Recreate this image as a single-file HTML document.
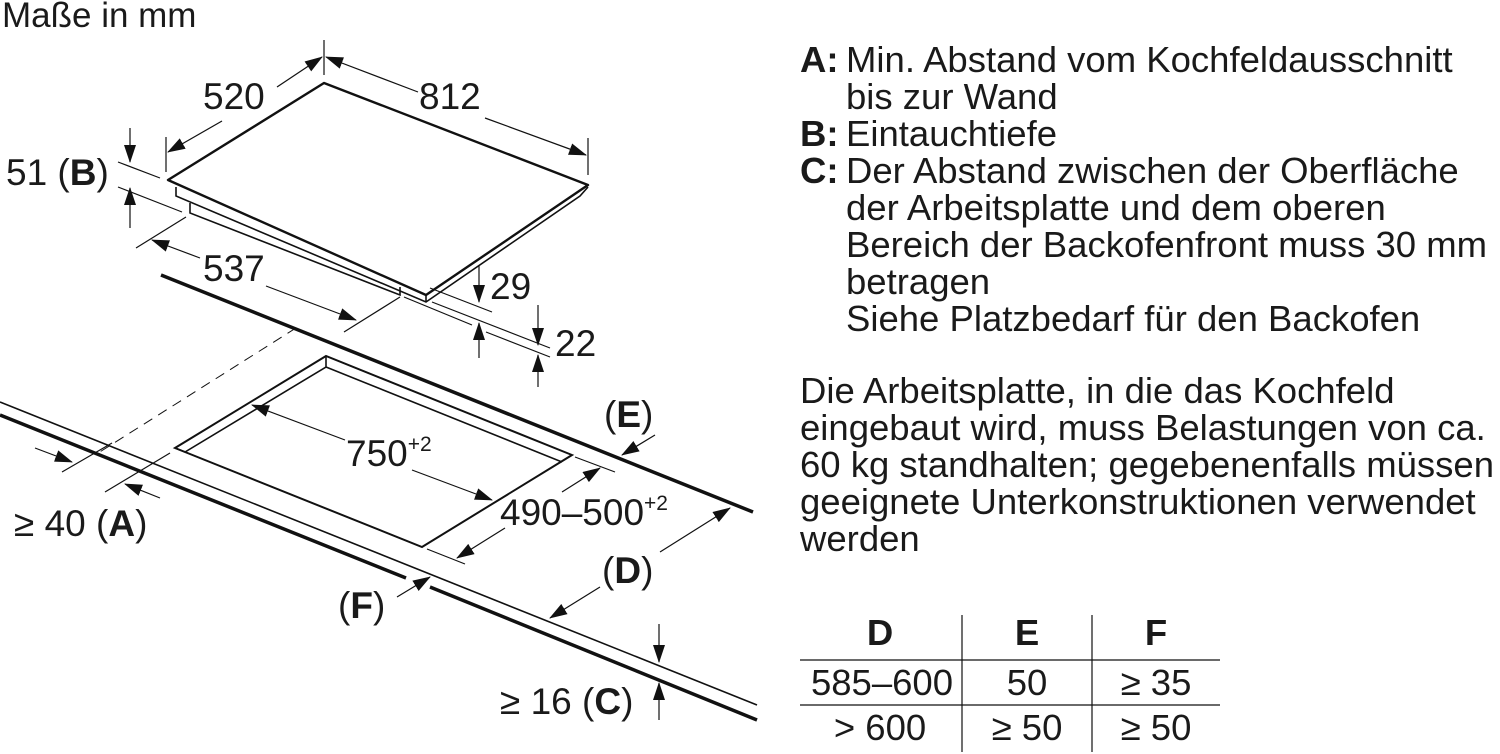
<!DOCTYPE html>
<html><head><meta charset="utf-8"><style>
html,body{margin:0;padding:0;background:#fff;}
svg{display:block;}
text{font-family:"Liberation Sans",Arial,sans-serif;fill:#1a1a1a;}
</style></head><body>
<svg width="1500" height="754" viewBox="0 0 1500 754" xmlns="http://www.w3.org/2000/svg">
<defs>
<marker id="a" markerUnits="userSpaceOnUse" markerWidth="18" markerHeight="12" viewBox="0 0 18 12" refX="17" refY="6" orient="auto">
<path d="M0,0 L18,6 L0,12 z" fill="#111"/></marker>
</defs>
<g stroke="#111" fill="none" stroke-width="1.2">
<path d="M324,83 L168,180 L426,295 L588,185 Z" stroke-width="2.4" stroke-linejoin="round"/>
<path d="M176,187 L176,196 L426,302 L580,196 L588,187" stroke-width="1.6"/>
<path d="M190,203 L190,213 L400,295 L400,287" stroke-width="1.6"/>
<line x1="426" y1="295" x2="426" y2="302" stroke-width="1.6"/>
<line x1="324" y1="40" x2="324" y2="75"/>
<line x1="166" y1="137" x2="166" y2="172"/>
<line x1="588" y1="138" x2="588" y2="175"/>
<line x1="277" y1="87" x2="322" y2="57" marker-end="url(#a)"/>
<line x1="222" y1="121" x2="168" y2="152" marker-end="url(#a)"/>
<line x1="418" y1="92" x2="326" y2="57" marker-end="url(#a)"/>
<line x1="485" y1="118" x2="586" y2="155" marker-end="url(#a)"/>
<line x1="130" y1="128" x2="130" y2="162" marker-end="url(#a)"/>
<line x1="130" y1="228" x2="130" y2="188" marker-end="url(#a)"/>
<line x1="118" y1="162" x2="160" y2="178"/>
<line x1="118" y1="187" x2="182" y2="212"/>
<line x1="136" y1="248" x2="186" y2="217"/>
<line x1="344" y1="332" x2="400" y2="297"/>
<line x1="200" y1="258" x2="152" y2="240" marker-end="url(#a)"/>
<line x1="266" y1="286" x2="356" y2="320" marker-end="url(#a)"/>
<line x1="430" y1="288" x2="492" y2="312"/>
<line x1="404" y1="297" x2="472" y2="325"/>
<line x1="432" y1="302" x2="550" y2="348"/>
<line x1="486" y1="332" x2="550" y2="357"/>
<line x1="479" y1="266" x2="479" y2="302" marker-end="url(#a)"/>
<line x1="479" y1="358" x2="479" y2="323" marker-end="url(#a)"/>
<line x1="538" y1="305" x2="538" y2="345" marker-end="url(#a)"/>
<line x1="538" y1="387" x2="538" y2="355" marker-end="url(#a)"/>
<line x1="161" y1="275" x2="753" y2="512" stroke-width="3.5"/>
<line x1="296" y1="328" x2="95" y2="455" stroke-dasharray="10,7" stroke-width="1"/>
<line x1="0" y1="402" x2="757" y2="705" stroke-width="1.6"/>
<path d="M0,415 L406,578 M430,587 L757,720" stroke-width="3.5"/>
<path d="M326,356 L175,448 L422,547 L572,455 Z" stroke-width="2"/>
<path d="M326,356 L326,367 L185,452 L175,448 M326,367 L562,462" stroke-width="1.6"/>
<line x1="345" y1="440" x2="252" y2="405" marker-end="url(#a)"/>
<line x1="412" y1="470" x2="492" y2="500" marker-end="url(#a)"/>
<line x1="575" y1="457" x2="615" y2="472"/>
<line x1="427" y1="549" x2="465" y2="564"/>
<line x1="562" y1="492" x2="600" y2="468" marker-end="url(#a)"/>
<line x1="505" y1="528" x2="457" y2="558" marker-end="url(#a)"/>
<line x1="655" y1="435" x2="622" y2="455" marker-end="url(#a)"/>
<line x1="660" y1="552" x2="730" y2="508" marker-end="url(#a)"/>
<line x1="600" y1="587" x2="550" y2="618" marker-end="url(#a)"/>
<line x1="397" y1="597" x2="430" y2="577" marker-end="url(#a)"/>
<line x1="62" y1="472" x2="112" y2="443"/>
<line x1="105" y1="492" x2="170" y2="453"/>
<line x1="35" y1="448" x2="72" y2="462" marker-end="url(#a)"/>
<line x1="160" y1="498" x2="125" y2="484" marker-end="url(#a)"/>
<line x1="659" y1="624" x2="659" y2="662" marker-end="url(#a)"/>
<line x1="659" y1="720" x2="659" y2="683" marker-end="url(#a)"/>
<line x1="800" y1="660" x2="1220" y2="660"/>
<line x1="800" y1="705" x2="1220" y2="705"/>
<line x1="962" y1="615" x2="962" y2="752"/>
<line x1="1092" y1="615" x2="1092" y2="752"/>
</g>
<text x="2" y="27" font-size="35">Maße in mm</text>
<g font-size="37">
<text x="203" y="109">520</text>
<text x="419" y="109">812</text>
<text x="6" y="185">51 (<tspan font-weight="bold">B</tspan>)</text>
<text x="203" y="281">537</text>
<text x="490" y="299">29</text>
<text x="555" y="356">22</text>
<text x="604" y="427">(<tspan font-weight="bold">E</tspan>)</text>
<text x="346" y="466">750<tspan font-size="21" dy="-15">+2</tspan></text>
<text x="500" y="525">490–500<tspan font-size="21" dy="-15">+2</tspan></text>
<text x="14" y="536">≥ 40 (<tspan font-weight="bold">A</tspan>)</text>
<text x="602" y="583">(<tspan font-weight="bold">D</tspan>)</text>
<text x="338" y="618">(<tspan font-weight="bold">F</tspan>)</text>
<text x="500" y="714">≥ 16 (<tspan font-weight="bold">C</tspan>)</text>
</g>
<g font-size="36.5">
<text x="800" y="72"><tspan font-weight="bold">A:</tspan></text><text x="846" y="72">Min. Abstand vom Kochfeldausschnitt</text>
<text x="846" y="109">bis zur Wand</text>
<text x="800" y="146"><tspan font-weight="bold">B:</tspan></text><text x="846" y="146">Eintauchtiefe</text>
<text x="800" y="183"><tspan font-weight="bold">C:</tspan></text><text x="846" y="183">Der Abstand zwischen der Oberfläche</text>
<text x="846" y="220">der Arbeitsplatte und dem oberen</text>
<text x="846" y="257">Bereich der Backofenfront muss 30 mm</text>
<text x="846" y="294">betragen</text>
<text x="846" y="331">Siehe Platzbedarf für den Backofen</text>
<text x="800" y="403">Die Arbeitsplatte, in die das Kochfeld</text>
<text x="800" y="440">eingebaut wird, muss Belastungen von ca.</text>
<text x="800" y="477">60 kg standhalten; gegebenenfalls müssen</text>
<text x="800" y="514">geeignete Unterkonstruktionen verwendet</text>
<text x="800" y="551">werden</text>
<g text-anchor="middle">
<text x="880" y="645" font-weight="bold">D</text>
<text x="1027" y="645" font-weight="bold">E</text>
<text x="1156" y="645" font-weight="bold">F</text>
<text x="882" y="695">585–600</text>
<text x="1027" y="695">50</text>
<text x="1156" y="695">≥ 35</text>
<text x="880" y="740">&gt; 600</text>
<text x="1027" y="740">≥ 50</text>
<text x="1156" y="740">≥ 50</text>
</g>
</g>
</svg>
</body></html>
